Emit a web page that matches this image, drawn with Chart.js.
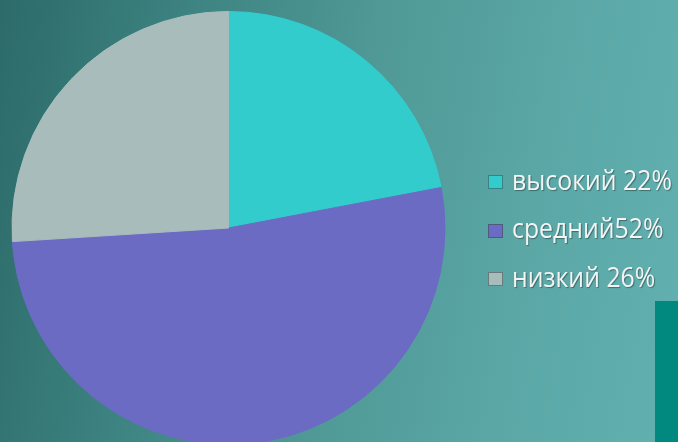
<!DOCTYPE html>
<html><head><meta charset="utf-8">
<script src="https://cdn.jsdelivr.net/npm/chart.js@4/dist/chart.umd.min.js"></script>
<style>
html,body{margin:0;padding:0;width:678px;height:442px;overflow:hidden;}
body{background:linear-gradient(100deg,#2c6b69 0%,#3d8381 25%,#4f9895 50%,#5aa7a6 75%,#62b0b0 100%);position:relative;font-family:"Open Sans",sans-serif;}
#wrap{position:absolute;left:0;top:0;width:678px;height:460px;}
#legend{position:absolute;left:488px;top:162.5px;}
.item{height:48.5px;display:flex;align-items:flex-start;color:#f4f4f4;font-size:27px;line-height:34px;text-shadow:1px 1px 1px rgba(0,0,0,0.35);white-space:pre;}
.sw{width:13px;height:12px;margin-top:12.5px;margin-right:9px;border:1px solid rgba(60,80,80,0.6);flex:none;}
.tx{display:inline-block;transform:scaleX(0.92);transform-origin:0 0;}
#bar{position:absolute;left:655px;top:301px;width:23px;height:141px;background:#01887f;}
</style></head><body>
<div id="wrap"><canvas id="c"></canvas></div>
<div id="legend"></div>
<div id="bar"></div>
<script>
const categories = ["высокий", "средний", "низкий"];
const values = [22, 52, 26];
const labelsText = ["высокий 22%", "средний52%", "низкий 26%"];
const colors = ["#33cccc", "#6b6bc4", "#a9bcbc"];

const ctx = document.getElementById('c');
new Chart(ctx, {
  type: 'pie',
  data: { labels: categories, datasets: [{ data: values, backgroundColor: colors, borderColor: colors, borderWidth: 1 }] },
  options: {
    responsive: true, maintainAspectRatio: false, animation: false,
    layout: { padding: { left: 11, top: 11, right: 232, bottom: 15 } },
    plugins: { legend: { display: false }, tooltip: { enabled: false } }
  }
});
const lg = document.getElementById('legend');
labelsText.forEach((t, i) => {
  const d = document.createElement('div'); d.className = 'item';
  const s = document.createElement('span'); s.className = 'sw'; s.style.background = colors[i];
  const tx = document.createElement('span'); tx.className = 'tx'; tx.textContent = t;
  d.appendChild(s); d.appendChild(tx); lg.appendChild(d);
});
</script>
</body></html>
